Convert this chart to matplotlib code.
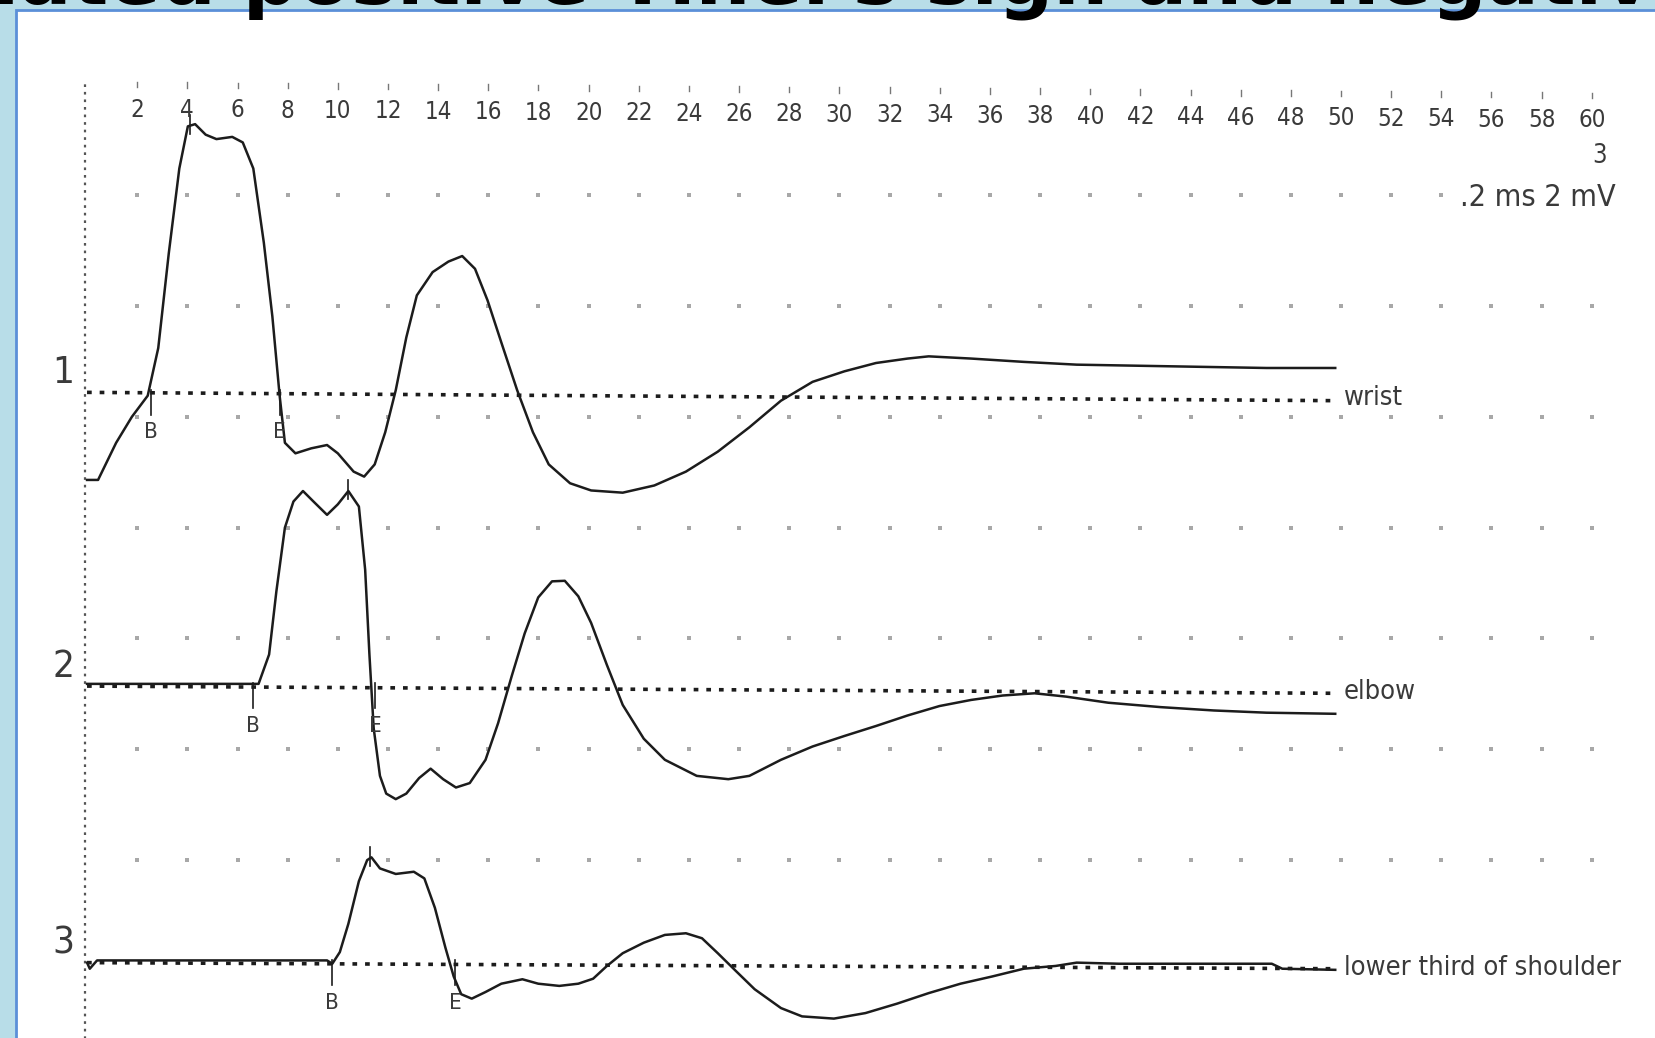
import numpy as np
import matplotlib.pyplot as plt
import matplotlib.font_manager as fm
from matplotlib.patches import Rectangle

# time labels along the top (ms)
tick_ms = list(range(2, 62, 2))

# traces: time (ms) and amplitude (mV, relative to own baseline)
wrist_t = [0.0, 0.44, 1.16, 1.79, 2.42, 2.84, 3.26, 3.68, 4.02, 4.31, 4.73, 5.16, 5.79, 6.21,
           6.63, 7.05, 7.39, 7.68, 7.89, 8.31, 8.94, 9.57, 10.0, 10.63, 11.05, 11.47, 11.89,
           12.31, 12.73, 13.15, 13.78, 14.41, 14.96, 15.47, 15.97, 16.52, 17.15, 17.78, 18.41,
           19.26, 20.10, 21.36, 22.62, 23.88, 25.15, 26.41, 27.67, 28.93, 30.20, 31.46, 32.72,
           33.56, 35.25, 37.35, 39.46, 41.98, 44.51, 47.03, 49.77]
wrist_v = [-1.58, -1.58, -0.91, -0.44, -0.06, 0.80, 2.51, 4.04, 4.80, 4.84, 4.65, 4.57, 4.61, 4.51,
           4.04, 2.70, 1.37, -0.06, -0.91, -1.10, -1.01, -0.95, -1.10, -1.43, -1.52, -1.30, -0.72,
           0.04, 0.99, 1.75, 2.17, 2.36, 2.46, 2.23, 1.66, 0.90, 0.04, -0.72, -1.30,
           -1.64, -1.77, -1.81, -1.68, -1.43, -1.07, -0.63, -0.15, 0.19, 0.38, 0.53, 0.61,
           0.65, 0.61, 0.55, 0.50, 0.48, 0.46, 0.44, 0.44]

elbow_t = [0.0, 6.84, 7.26, 7.55, 7.89, 8.23, 8.61, 9.03, 9.57, 10.0, 10.42, 10.84, 11.09, 11.26,
           11.43, 11.68, 11.93, 12.31, 12.73, 13.24, 13.70, 14.20, 14.71, 15.26, 15.89, 16.39,
           16.94, 17.45, 17.99, 18.54, 19.05, 19.59, 20.10, 20.73, 21.36, 22.20, 23.04, 24.31,
           25.57, 26.41, 27.67, 28.93, 30.20, 31.46, 32.72, 33.99, 35.25, 36.51, 37.78, 39.04,
           40.72, 42.82, 44.93, 47.03, 49.77]
elbow_v = [0.04, 0.04, 0.57, 1.71, 2.86, 3.33, 3.52, 3.33, 3.09, 3.28, 3.52, 3.24, 2.10, 0.57,
           -0.76, -1.62, -1.94, -2.04, -1.94, -1.66, -1.49, -1.68, -1.83, -1.75, -1.33, -0.67,
           0.19, 0.95, 1.60, 1.89, 1.90, 1.62, 1.14, 0.38, -0.34, -0.95, -1.33, -1.62,
           -1.68, -1.62, -1.33, -1.09, -0.90, -0.72, -0.53, -0.36, -0.25, -0.17, -0.13, -0.19,
           -0.30, -0.38, -0.44, -0.48, -0.50]

shoulder_t = [0.0, 0.11, 0.40, 9.57, 9.78, 10.08, 10.42, 10.84, 11.17, 11.34, 11.68, 12.31, 13.03,
              13.45, 13.87, 14.29, 14.62, 14.92, 15.34, 15.89, 16.52, 17.36, 17.99, 18.83, 19.59,
              20.18, 20.73, 21.36, 22.20, 23.04, 23.88, 24.52, 25.15, 25.87, 26.62, 27.67, 28.51,
              29.78, 31.04, 32.30, 33.56, 34.83, 36.09, 37.35, 38.62, 39.46, 41.14, 43.67, 47.24,
              47.66, 49.77]
shoulder_v = [0.0, -0.11, 0.04, 0.04, -0.02, 0.19, 0.70, 1.47, 1.85, 1.90, 1.70, 1.60, 1.64,
              1.52, 0.99, 0.27, -0.25, -0.57, -0.65, -0.53, -0.38, -0.30, -0.38, -0.42, -0.38,
              -0.29, -0.06, 0.17, 0.36, 0.50, 0.53, 0.44, 0.17, -0.15, -0.48, -0.82, -0.97,
              -1.01, -0.91, -0.74, -0.55, -0.38, -0.25, -0.11, -0.06, 0.0, -0.02, -0.02, -0.02,
              -0.11, -0.13]

trace_ids = ["1", "2", "3"]
site_names = ["wrist", "elbow", "lower third of shoulder"]
baseline_mv = [10.29, 4.99, 0.0]
baseline_tilt = [-0.15, -0.13, -0.11]   # drift of the dotted baseline over the sweep
sweep_end = 49.8
onset_ms = [2.55, 6.63, 9.78]
end_ms = [7.68, 11.5, 14.67]
peak_ms = [4.1, 10.42, 11.3]

traces = [(wrist_t, wrist_v), (elbow_t, elbow_v), (shoulder_t, shoulder_v)]

ink = "#1c1c1c"
label_ink = "#3a3a3a"

# the printout uses a narrow face; take one if the machine has it
narrow = None
for f in fm.fontManager.ttflist:
    if ("Narrow" in f.name or "Condensed" in f.name or f.stretch == "condensed") \
            and f.weight in (400, "normal", "regular"):
        narrow = f
        break
if narrow is not None:
    nfont = dict(family=[narrow.name, "DejaVu Sans"], fontstretch=narrow.stretch)
    k = 1.15
else:
    nfont = dict(family=["DejaVu Sans"])
    k = 1.0

fig = plt.figure(figsize=(16.55, 10.38), dpi=100, facecolor="#b8dde8")
fig.patches.append(Rectangle((16 / 1655, -0.05), 1.0, 1.05 - 10 / 1038,
                             transform=fig.transFigure, facecolor="white",
                             edgecolor="#5b8fd8", linewidth=2, zorder=-1))
fig.text(-135 / 1655, 1 - 4 / 1038, "Isolated positive Tinel's sign and negative",
         fontsize=55.5, fontweight="bold", color="black", va="baseline", ha="left",
         zorder=5)

ax = fig.add_axes([0, 0, 1, 1])
ax.set_facecolor("none")
ax.set_xlim(-3.47, 62.52)
ax.set_ylim(-1.36, 17.37)
ax.axis("off")

# dot grid
gx, gy = np.meshgrid(tick_ms, 1.85 + 2 * np.arange(7))
ax.scatter(gx.ravel(), gy.ravel(), s=6, color="#a8a8a8", marker="s", linewidths=0)

# left dotted axis
ax.plot([-0.1, -0.1], [-1.4, 15.85], color="#555555", lw=1.6, ls=(0, (1.2, 2.2)))

# top time labels
for t in tick_ms:
    ax.text(t, 15.4 - 0.2 * t / 60, str(t), ha="center", va="center", fontsize=15 * k,
            color=label_ink, **nfont)
    ax.plot([t, t], [15.8 - 0.2 * t / 60, 15.9 - 0.2 * t / 60], color="#777777", lw=1)

ax.text(60.3, 14.55, "3", ha="center", va="center", fontsize=16 * k, color=label_ink, **nfont)
ax.text(60.95, 13.8, ".2 ms 2 mV", ha="right", va="center", fontsize=19 * k, color=label_ink,
        bbox=dict(facecolor="white", edgecolor="none", pad=1), zorder=4, **nfont)

for (t, v), base, tilt, tid, name, on, off, pk in zip(traces, baseline_mv, baseline_tilt,
                                                      trace_ids, site_names, onset_ms, end_ms,
                                                      peak_ms):
    t = np.asarray(t)
    v = np.asarray(v)
    ax.plot([0, sweep_end], [base, base + tilt], color=ink, lw=2.6, ls=(0, (1.3, 2.2)))
    ax.plot(t, base + v, color=ink, lw=1.8, solid_joinstyle="round")
    ax.text(-0.95, base + 0.35, tid, ha="center", va="center", fontsize=24 * k,
            color=label_ink, **nfont)
    ax.text(50.1, base - 0.1, name, ha="left", va="center", fontsize=17 * k,
            color=label_ink, **nfont)
    # onset / end cursors
    for m, letter in ((on, "B"), (off, "E")):
        ax.plot([m, m], [base + 0.05, base - 0.4], color=ink, lw=1.2)
        ax.text(m, base - 0.72, letter, ha="center", va="center", fontsize=14 * k,
                color=label_ink, **nfont)
    pv = np.interp(pk, t, v)
    ax.plot([pk, pk], [base + pv - 0.15, base + pv + 0.2], color=ink, lw=1.2)

fig.savefig("out.png", dpi=100, facecolor=fig.get_facecolor())
